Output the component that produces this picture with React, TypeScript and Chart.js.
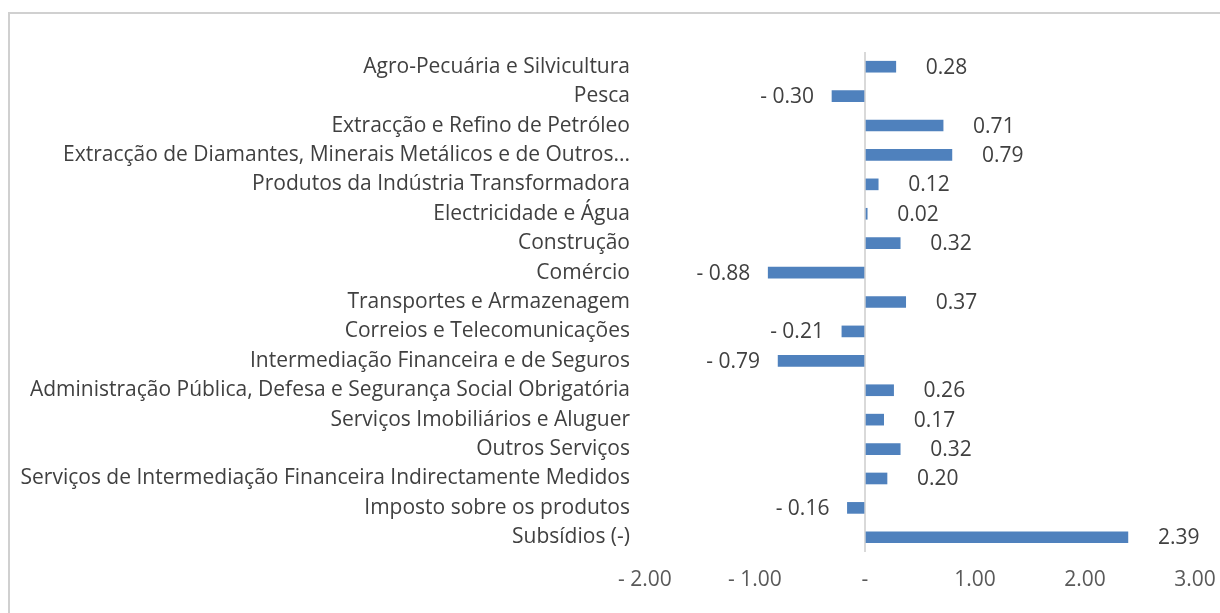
import React, { useEffect, useRef } from "react";
import { Chart, registerables } from "chart.js";

Chart.register(...registerables);

const categories: string[] = [
  "Agro-Pecuária e Silvicultura",
  "Pesca",
  "Extracção e Refino de Petróleo",
  "Extracção de Diamantes, Minerais Metálicos e de Outros...",
  "Produtos da Indústria Transformadora",
  "Electricidade e Água",
  "Construção",
  "Comércio",
  "Transportes e Armazenagem",
  "Correios e Telecomunicações",
  "Intermediação Financeira e de Seguros",
  "Administração Pública, Defesa e Segurança Social Obrigatória",
  "Serviços Imobiliários e Aluguer",
  "Outros Serviços",
  "Serviços de Intermediação Financeira Indirectamente Medidos",
  "Imposto sobre os produtos",
  "Subsídios (-)",
];

const values: number[] = [
  0.28, -0.3, 0.71, 0.79, 0.12, 0.02, 0.32, -0.88, 0.37, -0.21, -0.79, 0.26,
  0.17, 0.32, 0.2, -0.16, 2.39,
];

const xMin = -2;
const xMax = 3;

const FONT = "'Open Sans', sans-serif";
const FS = 21;

function fmt(v: number): string {
  if (v === 0) return "-";
  if (v < 0) return "- " + Math.abs(v).toFixed(2);
  return v.toFixed(2);
}

const labelPlugin = {
  id: "barLabels",
  afterDatasetsDraw(chart: any) {
    const ctx = chart.ctx;
    const meta = chart.getDatasetMeta(0);
    const xScale = chart.scales.x;
    const zero = xScale.getPixelForValue(0);
    ctx.save();
    ctx.font = `${FS}px ${FONT}`;
    ctx.fillStyle = "#404040";
    ctx.textBaseline = "middle";
    meta.data.forEach((bar: any, i: number) => {
      const v = values[i];
      const end = xScale.getPixelForValue(v);
      if (v >= 0) {
        ctx.textAlign = "left";
        ctx.fillText(fmt(v), Math.max(end, zero) + 30, bar.y + 1);
      } else {
        ctx.textAlign = "right";
        ctx.fillText(fmt(v), end - 18, bar.y + 1);
      }
    });
    ctx.restore();
  },
};

export default function App() {
  const canvasRef = useRef<HTMLCanvasElement | null>(null);

  useEffect(() => {
    document.body.style.overflow = "hidden";
    const canvas = canvasRef.current;
    if (!canvas) return;
    const chart = new Chart(canvas, {
      type: "bar",
      data: {
        labels: categories,
        datasets: [
          {
            data: values,
            backgroundColor: "#4F81BD",
            borderWidth: 0,
            barThickness: 11,
          },
        ],
      },
      options: {
        indexAxis: "y",
        animation: false,
        responsive: false,
        maintainAspectRatio: false,
        layout: { padding: { left: 0, right: 25, top: 52, bottom: 19 } },
        plugins: {
          legend: { display: false },
          tooltip: { enabled: false },
        },
        scales: {
          x: {
            min: xMin,
            max: xMax,
            ticks: {
              stepSize: 1,
              color: "#595959",
              font: { family: FONT, size: FS },
              padding: 15,
              callback: (v: any) => fmt(Number(v)),
            },
            grid: {
              drawTicks: false,
              lineWidth: 2,
              color: (c: any) =>
                c.tick && c.tick.value === 0 ? "#d9d9d9" : "rgba(0,0,0,0)",
            },
            border: { display: false },
            afterFit: (s: any) => {
              s.height = 42;
              s.paddingRight = 0;
              s.paddingLeft = 0;
            },
          },
          y: {
            ticks: {
              color: "#404040",
              font: { family: FONT, size: FS },
              padding: 15,
              autoSkip: false,
            },
            grid: { display: false, drawTicks: false },
            border: { display: false },
            afterFit: (s: any) => {
              s.width = 645;
              s.paddingTop = 0;
              s.paddingBottom = 0;
            },
          },
        },
      },
      plugins: [labelPlugin],
    });
    return () => chart.destroy();
  }, []);

  return (
    <div
      style={{
        position: "absolute",
        left: 0,
        top: 0,
        width: 1220,
        height: 613,
        overflow: "hidden",
        background: "#fff",
      }}
    >
      <div
        style={{
          position: "absolute",
          left: 8,
          top: 12,
          width: 1300,
          height: 700,
          border: "2px solid #d0d0d0",
        }}
      />
      <canvas
        ref={canvasRef}
        width={1220}
        height={613}
        style={{ position: "absolute", left: 0, top: 0 }}
      />
    </div>
  );
}
